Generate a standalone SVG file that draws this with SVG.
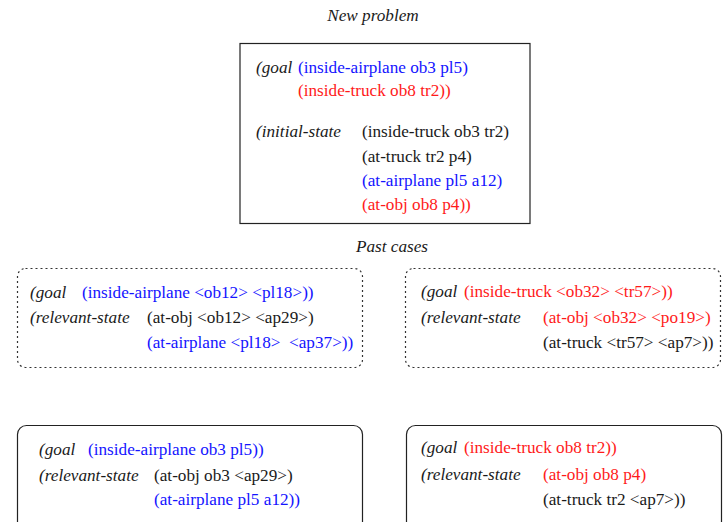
<svg xmlns="http://www.w3.org/2000/svg" width="723" height="522" viewBox="0 0 723 522">
  <style>
    text { font-family: "Liberation Serif", "Times New Roman", serif; font-size: 17.2px; fill: #1a1a1a; }
    .kw { font-style: italic; }
    .title { font-style: italic; }
    .b { fill: #1414ff; }
    .r { fill: #ff1a1a; }
    .box { fill: #ffffff; stroke: #222222; stroke-width: 1.2; }
    .dotted { fill: #ffffff; stroke: #333333; stroke-width: 1.2; stroke-dasharray: 2 3; }
  </style>
  <rect width="723" height="522" fill="#ffffff"/>

  <text class="title" x="373" y="21" text-anchor="middle">New problem</text>
  <text class="title" x="392" y="252" text-anchor="middle">Past cases</text>

  <!-- New problem description -->
  <g id="new-problem">
    <rect class="box" x="240" y="43.5" width="290" height="180"/>
    <text class="kw" x="256" y="73">(goal</text>
    <text class="b" x="298" y="73">(inside-airplane ob3 pl5)</text>
    <text class="r" x="298" y="96">(inside-truck ob8 tr2))</text>
    <text class="kw" x="256" y="137">(initial-state</text>
    <text x="362" y="137">(inside-truck ob3 tr2)</text>
    <text x="362" y="162">(at-truck tr2 p4)</text>
    <text class="b" x="362" y="186">(at-airplane pl5 a12)</text>
    <text class="r" x="362" y="210">(at-obj ob8 p4))</text>
  </g>

  <!-- Past case: airplane goal -->
  <g id="case-airplane">
    <rect class="dotted" x="17.5" y="268.5" width="345" height="99" rx="8"/>
    <text class="kw" x="30" y="298">(goal</text>
    <text class="b" x="82" y="298">(inside-airplane &lt;ob12&gt; &lt;pl18&gt;))</text>
    <text class="kw" x="30" y="323">(relevant-state</text>
    <text x="147" y="323">(at-obj &lt;ob12&gt; &lt;ap29&gt;)</text>
    <text class="b" x="147" y="348" xml:space="preserve">(at-airplane &lt;pl18&gt;  &lt;ap37&gt;))</text>
  </g>

  <!-- Past case: truck goal -->
  <g id="case-truck">
    <rect class="dotted" x="405.5" y="268.5" width="315" height="99" rx="8"/>
    <text class="kw" x="421" y="297">(goal</text>
    <text class="r" x="464" y="297">(inside-truck &lt;ob32&gt; &lt;tr57&gt;))</text>
    <text class="kw" x="421" y="323">(relevant-state</text>
    <text class="r" x="543" y="323">(at-obj &lt;ob32&gt; &lt;po19&gt;)</text>
    <text x="543" y="348">(at-truck &lt;tr57&gt; &lt;ap7&gt;))</text>
  </g>

  <!-- Instantiated airplane case -->
  <g id="instance-airplane">
    <rect class="box" x="17.5" y="425.5" width="345" height="110" rx="9"/>
    <text class="kw" x="39" y="455">(goal</text>
    <text class="b" x="88" y="455">(inside-airplane ob3 pl5))</text>
    <text class="kw" x="39" y="481">(relevant-state</text>
    <text x="154" y="481">(at-obj ob3 &lt;ap29&gt;)</text>
    <text class="b" x="154" y="505">(at-airplane pl5 a12))</text>
  </g>

  <!-- Instantiated truck case -->
  <g id="instance-truck">
    <rect class="box" x="406.5" y="425.5" width="315" height="110" rx="9"/>
    <text class="kw" x="421" y="453">(goal</text>
    <text class="r" x="464" y="453">(inside-truck ob8 tr2))</text>
    <text class="kw" x="421" y="480">(relevant-state</text>
    <text class="r" x="543" y="480">(at-obj ob8 p4)</text>
    <text x="543" y="505">(at-truck tr2 &lt;ap7&gt;))</text>
  </g>

  <g id="connectors"/>
</svg>
